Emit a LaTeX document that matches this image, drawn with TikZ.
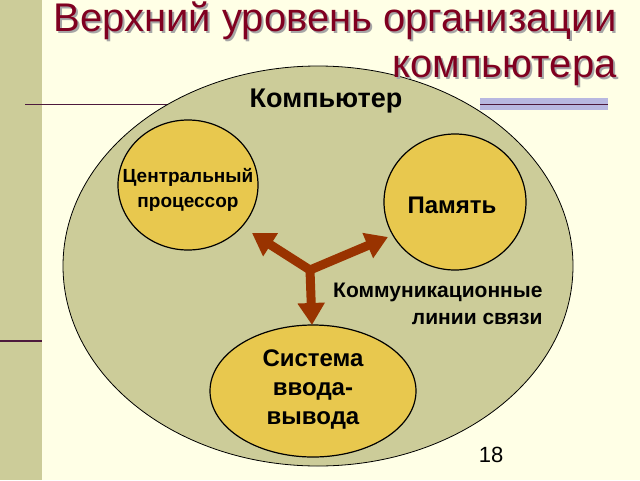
\documentclass[tikz,border=0pt]{standalone}
\usepackage{fontspec}
\setmainfont{Liberation Sans}
\usetikzlibrary{arrows.meta,shapes.geometric}
\definecolor{bg}{HTML}{FFFFE6}
\definecolor{khaki}{HTML}{CCCC99}
\definecolor{oval}{HTML}{CCCC99}
\definecolor{gold}{HTML}{E8C84E}
\definecolor{titlec}{HTML}{800020}
\definecolor{arr}{HTML}{993300}
\definecolor{lineC}{HTML}{4D1A3D}
\tikzset{unit/.style={draw=black,line width=1.2pt,fill=gold,ellipse},
 lbl/.style={align=center},
 big/.style={line width=9pt,draw=arr,-{Triangle[length=22pt,width=26pt]}}}
\begin{document}
\begin{tikzpicture}[x=1pt,y=-1pt]
\useasboundingbox (0,0) rectangle (640,480);
\fill[bg] (0,0) rectangle (640,480);
\fill[khaki] (0,0) rectangle (42,480);
\draw[lineC,line width=1pt] (25,104) -- (260,104);
\fill[gray!60!blue!40] (480,98) rectangle (608,110);
\draw[lineC,line width=1pt] (480,104) -- (608,104);
\draw[lineC,line width=1.5pt] (0,341) -- (42,341);
\node[draw=black,line width=0.8pt,fill=oval,ellipse,minimum width=510pt,minimum height=400pt] (comp) at (318,266) {};
\node[font=\fontsize{40}{46}\selectfont,text=black!35,anchor=north east,align=right] (tsh) at (622,0) {Верхний уровень организации\\компьютера};
\node[font=\fontsize{40}{46}\selectfont,text=titlec,anchor=north east,align=right] (title) at (620,-2) {Верхний уровень организации\\компьютера};
\node[lbl,font=\bfseries\fontsize{27}{30}\selectfont] (ct) at (326,101) {Компьютер};
\node[unit,minimum width=140pt,minimum height=130pt] (cpu) at (188,185) {};
\node[lbl,font=\bfseries\fontsize{19}{25}\selectfont] (cpul) at (188,190) {Центральный\\процессор};
\node[unit,minimum width=142pt,minimum height=136pt] (mem) at (455,202) {};
\node[lbl,font=\bfseries\fontsize{24}{27}\selectfont] (meml) at (452,205) {Память};
\node[unit,minimum width=206pt,minimum height=132pt] (io) at (313,391) {};
\node[lbl,font=\bfseries\fontsize{24}{29}\selectfont] (iol) at (313,390) {Система\\ввода-\\вывода};
\coordinate (j) at (310,270);
\draw[big] (j) -- (252,233);
\draw[big] (j) -- (388,237);
\draw[big] (j) -- (312,325);
\node[lbl,align=right,anchor=east,font=\bfseries\fontsize{21}{27}\selectfont] (cl) at (546,304) {Коммуникационные\\линии связи};
\node[font=\fontsize{22}{24}\selectfont] (num) at (491,455) {18};
\end{tikzpicture}
\end{document}
